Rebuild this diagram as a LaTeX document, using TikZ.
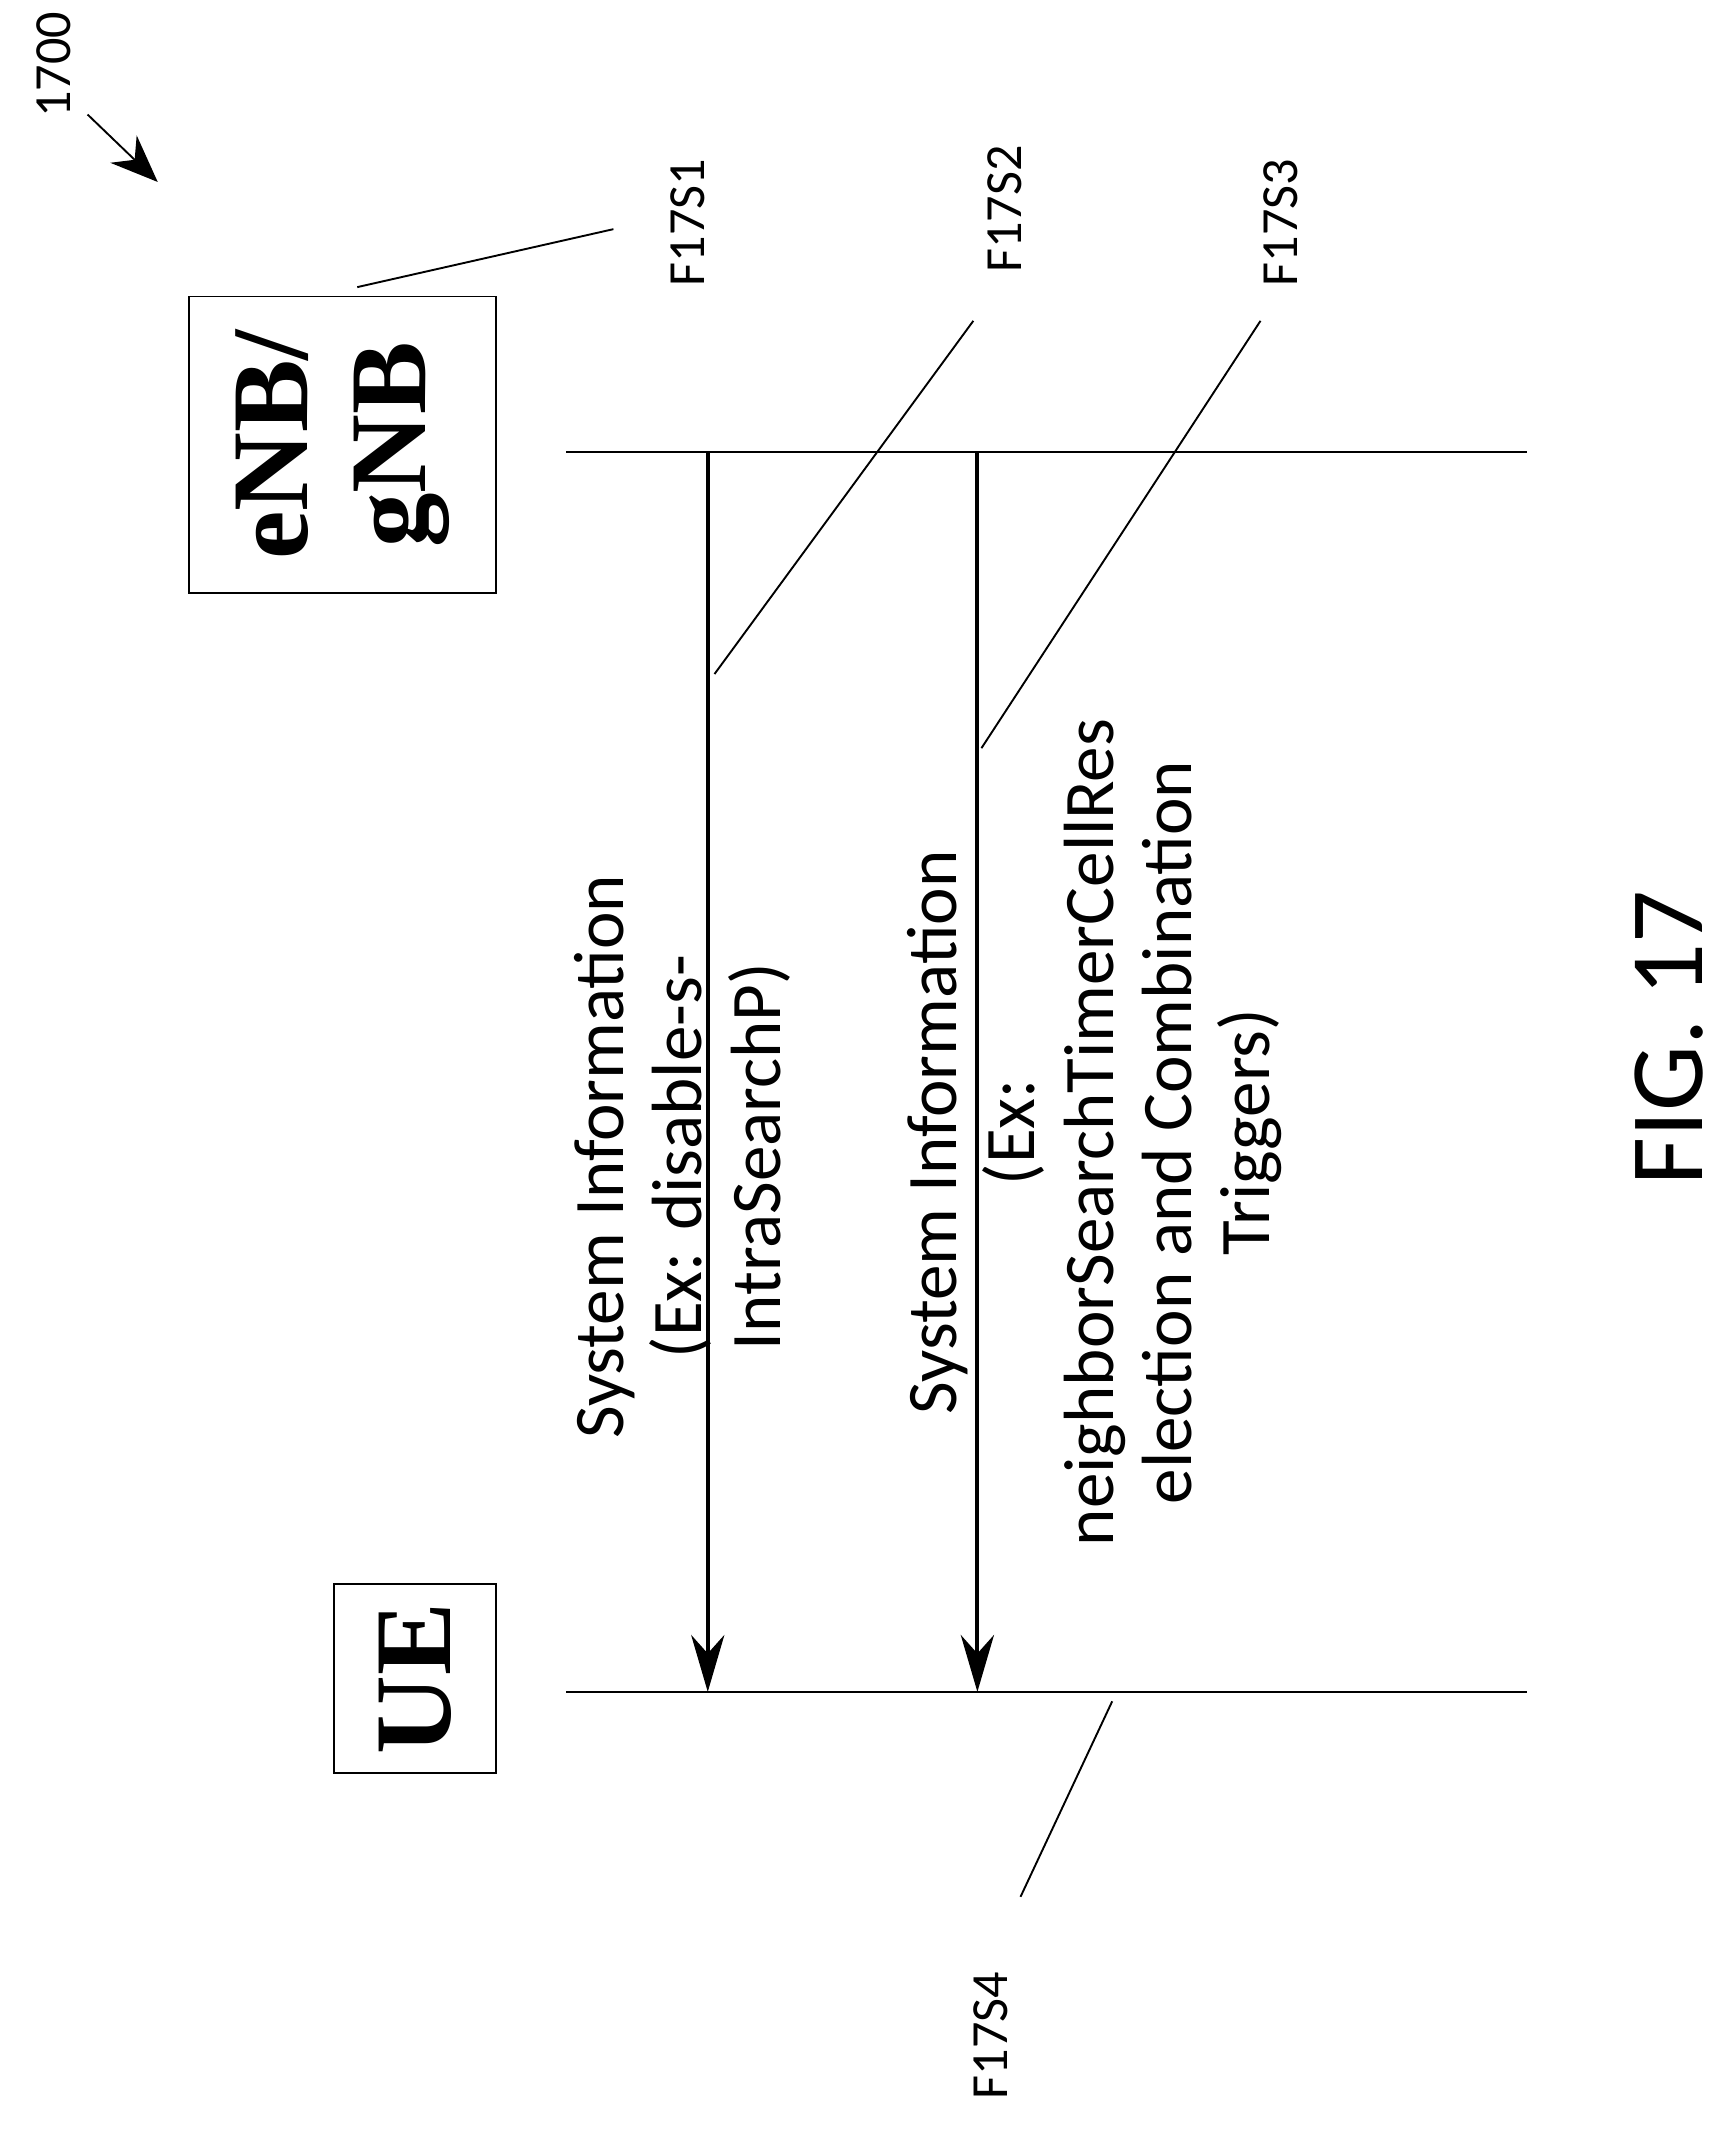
\documentclass[tikz,border=0pt]{standalone}
\usepackage{fontspec}
\setmainfont{Carlito}
\newfontfamily\timesfont{Liberation Serif}
\usetikzlibrary{arrows.meta}
\begin{document}
\begin{tikzpicture}[x=0.01cm,y=-0.01cm]
    \tikzstyle{every node}+=[inner sep=0pt]
    \tikzstyle{lbl}=[rotate=90,font=\fontsize{15}{16.5}\selectfont,align=center]
    \tikzstyle{ref}=[rotate=90,font=\fontsize{11}{13}\selectfont]
    \tikzstyle{ent}=[draw,rotate=90,font=\timesfont\bfseries\fontsize{23}{25}\selectfont,align=center]
    \useasboundingbox (0,0) rectangle (1280,1580);
    % entities
    \node [ent,minimum width=2.2cm,minimum height=2.28cm] (enb) at (254,330) {eNB/\\gNB};
    \node [ent,minimum width=1.4cm,minimum height=1.2cm] (ue) at (308,1245) {UE};
    % time lines
    \coordinate (et) at (420,335); \coordinate (eb) at (1133,335);
    \coordinate (ut) at (420,1255); \coordinate (ub) at (1133,1255);
    \draw (et) -- (eb);
    \draw (ut) -- (ub);
    % messages
    \coordinate (m1s) at (525,335); \coordinate (m1e) at (525,1255);
    \coordinate (m2s) at (725,335); \coordinate (m2e) at (725,1255);
    \draw [-{Stealth[length=12pt,width=7pt]},thick] (m1s) -- (m1e);
    \draw [-{Stealth[length=12pt,width=7pt]},thick] (m2s) -- (m2e);
    \node [lbl] (l1) at (506,858) {System Information\\(Ex: disable-s-\\IntraSearchP)};
    \node [lbl] (l2) at (812,840) {System Information\\(Ex:\\neighborSearchTimerCellRes\\election and Combination\\Triggers)};
    % reference labels
    \node [ref] (s1) at (510,165) {F17S1};
    \node [ref] (s2) at (745,155) {F17S2};
    \node [ref] (s3) at (950,165) {F17S3};
    \node [ref] (s4) at (735,1510) {F17S4};
    \coordinate (p1) at (265,213); \coordinate (q1) at (455,170);
    \coordinate (p2) at (530,500); \coordinate (q2) at (722,238);
    \coordinate (p3) at (728,555); \coordinate (q3) at (935,238);
    \coordinate (p4) at (825,1262); \coordinate (q4) at (757,1407);
    \draw (p1) -- (q1);
    \draw (p2) -- (q2);
    \draw (p3) -- (q3);
    \draw (p4) -- (q4);
    % figure number
    \node [ref] (num) at (40,48) {1700};
    \coordinate (na) at (65,85); \coordinate (nb) at (117,135);
    \draw [-{Stealth[length=10pt,width=8pt]}] (na) -- (nb);
    \node [rotate=90,font=\fontsize{22}{26}\selectfont] (fig) at (1238,770) {FIG. 17};
\end{tikzpicture}
\end{document}
